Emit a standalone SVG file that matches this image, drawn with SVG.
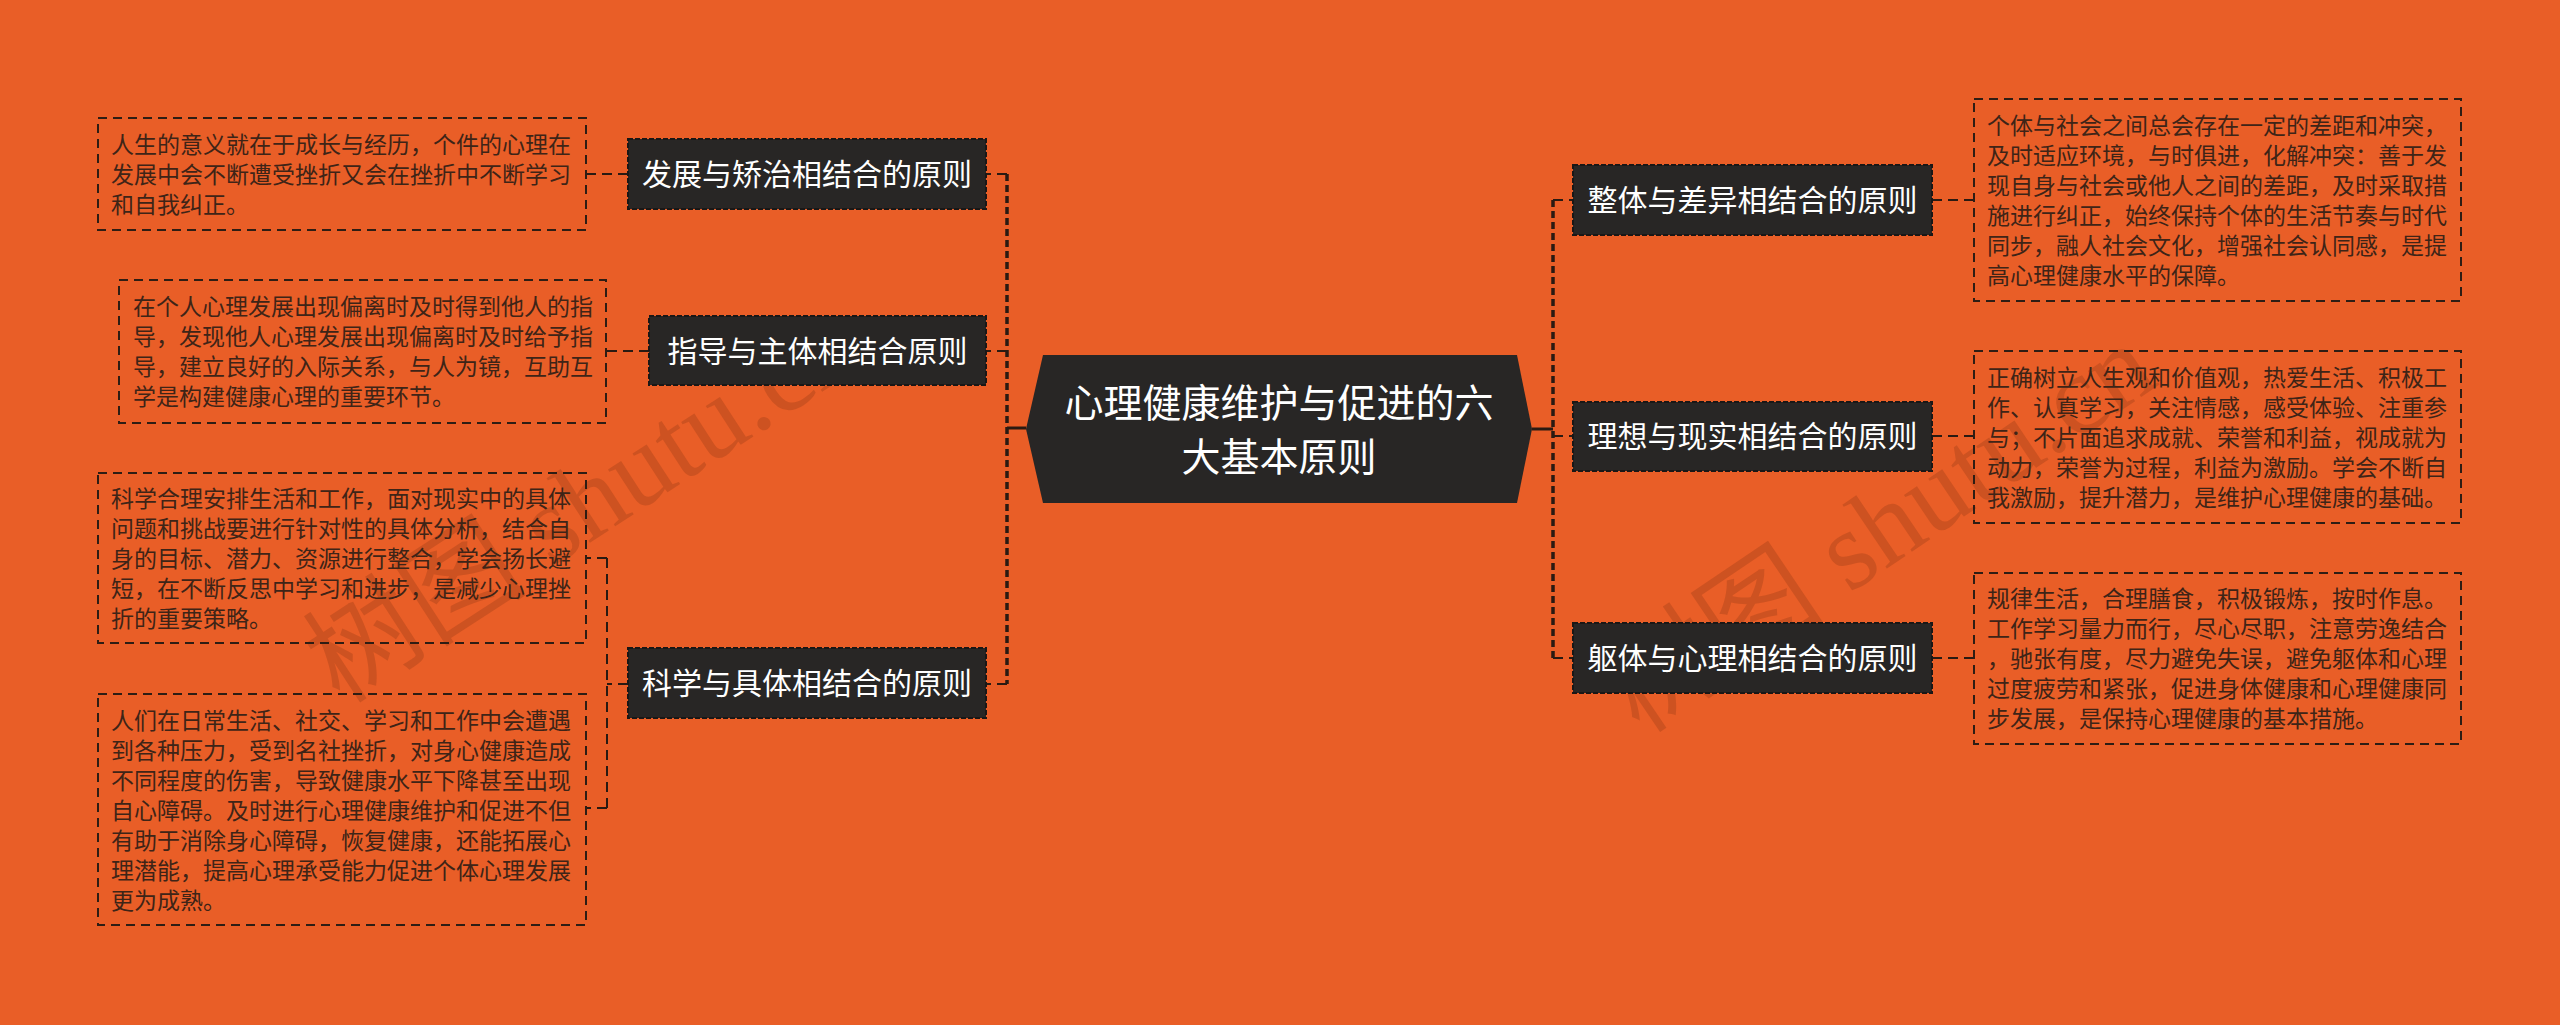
<svg xmlns="http://www.w3.org/2000/svg" width="2560" height="1025" viewBox="0 0 2560 1025">
<style>
.bg{fill:#E95E27}
.wm{font-family:"Liberation Serif","Noto Sans CJK SC",serif;font-size:112px;fill:#7a2e10;fill-opacity:0.25}
.node rect{fill:#282625;stroke:#1a1716;stroke-width:2;stroke-dasharray:5 2}
.ntext{font-family:"Noto Sans CJK SC","Noto Sans",sans-serif;font-size:30px;fill:#ffffff;text-anchor:middle}
.ctext{font-family:"Noto Sans CJK SC","Noto Sans",sans-serif;font-size:39px;fill:#ffffff;text-anchor:middle}
.detail rect{fill:none;stroke:#2e1d14;stroke-width:2;stroke-dasharray:9 6}
.dtext{font-family:"Noto Sans CJK SC","Noto Sans",sans-serif;font-size:23px;fill:#3e2417}
.conn path{fill:none;stroke:#2a1a12}
.trunk{stroke-width:3.5;stroke-dasharray:7 4}
.stub{stroke-width:2;stroke-dasharray:10 6}
.solid{stroke-width:3}
</style>
<rect class="bg" x="0" y="0" width="2560" height="1025"/>
<g id="watermarks">
<text class="wm" transform="translate(340,705) rotate(-33)">树图 shutu.cn</text>
<text class="wm" transform="translate(1640,735) rotate(-34)">树图 shutu.cn</text>
</g>
<g id="connectors" class="conn">
<path class="solid" d="M1026,428 H1007"/>
<path class="trunk" d="M1007,174 V684"/>
<path class="stub" d="M1007,174 H986 M1007,351 H986 M1007,684 H986"/>
<path class="stub" d="M628,174 H586"/>
<path class="stub" d="M649,351 H606"/>
<path class="stub" d="M628,684 H607"/>
<path class="stub" d="M607,558 V808 M607,558 H586 M607,808 H586"/>
<path class="solid" d="M1532,429 H1553"/>
<path class="trunk" d="M1553,200 V658"/>
<path class="stub" d="M1553,200 H1573 M1553,436 H1573 M1553,658 H1573"/>
<path class="stub" d="M1932,200 H1974 M1932,436 H1974 M1932,658 H1974"/>
</g>
<g id="center">
<polygon points="1026,429 1043,355 1517,355 1532,429 1517,503 1043,503" fill="#282625"/>
<text class="ctext" x="1279" y="417">心理健康维护与促进的六</text>
<text class="ctext" x="1279" y="471">大基本原则</text>
</g>
<g id="node-l1" class="node">
<rect x="628" y="139" width="358" height="70"/>
<text class="ntext" x="807" y="185">发展与矫治相结合的原则</text>
</g>
<g id="node-l2" class="node">
<rect x="649" y="316" width="337" height="69"/>
<text class="ntext" x="817.5" y="362">指导与主体相结合原则</text>
</g>
<g id="node-l3" class="node">
<rect x="628" y="648" width="358" height="70"/>
<text class="ntext" x="807" y="694">科学与具体相结合的原则</text>
</g>
<g id="node-r1" class="node">
<rect x="1573" y="165" width="359" height="70"/>
<text class="ntext" x="1752.5" y="211">整体与差异相结合的原则</text>
</g>
<g id="node-r2" class="node">
<rect x="1573" y="402" width="359" height="69"/>
<text class="ntext" x="1752.5" y="447">理想与现实相结合的原则</text>
</g>
<g id="node-r3" class="node">
<rect x="1573" y="623" width="359" height="70"/>
<text class="ntext" x="1752.5" y="669">躯体与心理相结合的原则</text>
</g>
<g id="detail-l1" class="detail">
<rect x="98" y="118" width="488" height="112"/>
<text class="dtext"><tspan x="111" y="153">人生的意义就在于成长与经历，个件的心理在</tspan><tspan x="111" y="183">发展中会不断遭受挫折又会在挫折中不断学习</tspan><tspan x="111" y="213">和自我纠正。</tspan></text>
</g>
<g id="detail-l2" class="detail">
<rect x="119" y="280" width="487" height="143"/>
<text class="dtext"><tspan x="133" y="315">在个人心理发展出现偏离时及时得到他人的指</tspan><tspan x="133" y="345">导，发现他人心理发展出现偏离时及时给予指</tspan><tspan x="133" y="375">导，建立良好的入际关系，与人为镜，互助互</tspan><tspan x="133" y="405">学是构建健康心理的重要环节。</tspan></text>
</g>
<g id="detail-l3" class="detail">
<rect x="98" y="473" width="488" height="170"/>
<text class="dtext"><tspan x="111" y="507">科学合理安排生活和工作，面对现实中的具体</tspan><tspan x="111" y="537">问题和挑战要进行针对性的具体分析，结合自</tspan><tspan x="111" y="567">身的目标、潜力、资源进行整合，学会扬长避</tspan><tspan x="111" y="597">短，在不断反思中学习和进步，是减少心理挫</tspan><tspan x="111" y="627">折的重要策略。</tspan></text>
</g>
<g id="detail-l4" class="detail">
<rect x="98" y="694" width="488" height="231"/>
<text class="dtext"><tspan x="111" y="729">人们在日常生活、社交、学习和工作中会遭遇</tspan><tspan x="111" y="759">到各种压力，受到名社挫折，对身心健康造成</tspan><tspan x="111" y="789">不同程度的伤害，导致健康水平下降甚至出现</tspan><tspan x="111" y="819">自心障碍。及时进行心理健康维护和促进不但</tspan><tspan x="111" y="849">有助于消除身心障碍，恢复健康，还能拓展心</tspan><tspan x="111" y="879">理潜能，提高心理承受能力促进个体心理发展</tspan><tspan x="111" y="909">更为成熟。</tspan></text>
</g>
<g id="detail-r1" class="detail">
<rect x="1974" y="99" width="487" height="202"/>
<text class="dtext"><tspan x="1987" y="134">个体与社会之间总会存在一定的差距和冲突，</tspan><tspan x="1987" y="164">及时适应环境，与时俱进，化解冲突：善于发</tspan><tspan x="1987" y="194">现自身与社会或他人之间的差距，及时采取措</tspan><tspan x="1987" y="224">施进行纠正，始终保持个体的生活节奏与时代</tspan><tspan x="1987" y="254">同步，融人社会文化，增强社会认同感，是提</tspan><tspan x="1987" y="284">高心理健康水平的保障。</tspan></text>
</g>
<g id="detail-r2" class="detail">
<rect x="1974" y="351" width="487" height="172"/>
<text class="dtext"><tspan x="1987" y="386">正确树立人生观和价值观，热爱生活、积极工</tspan><tspan x="1987" y="416">作、认真学习，关注情感，感受体验、注重参</tspan><tspan x="1987" y="446">与；不片面追求成就、荣誉和利益，视成就为</tspan><tspan x="1987" y="476">动力，荣誉为过程，利益为激励。学会不断自</tspan><tspan x="1987" y="506">我激励，提升潜力，是维护心理健康的基础。</tspan></text>
</g>
<g id="detail-r3" class="detail">
<rect x="1974" y="573" width="487" height="171"/>
<text class="dtext"><tspan x="1987" y="607">规律生活，合理膳食，积极锻炼，按时作息。</tspan><tspan x="1987" y="637">工作学习量力而行，尽心尽职，注意劳逸结合</tspan><tspan x="1987" y="667">，驰张有度，尽力避免失误，避免躯体和心理</tspan><tspan x="1987" y="697">过度疲劳和紧张，促进身体健康和心理健康同</tspan><tspan x="1987" y="727">步发展，是保持心理健康的基本措施。</tspan></text>
</g>
</svg>
